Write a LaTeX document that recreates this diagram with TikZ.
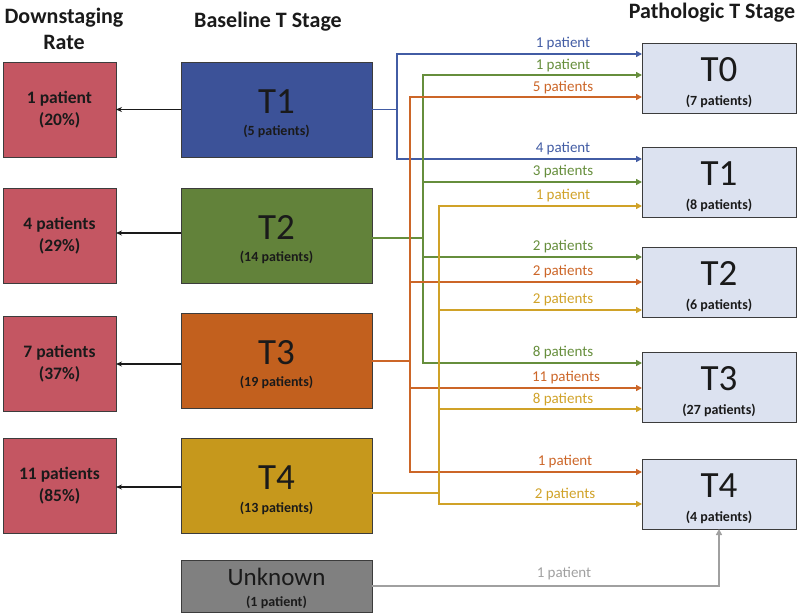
\documentclass[tikz,border=0pt]{standalone}
\usepackage{fontspec}
\setmainfont{Carlito}
\usetikzlibrary{arrows.meta,calc}
\definecolor{cblue}{RGB}{60,82,152}
\definecolor{cgreen}{RGB}{98,130,58}
\definecolor{corange}{RGB}{194,96,30}
\definecolor{cyellow}{RGB}{198,152,28}
\definecolor{cgray}{RGB}{128,128,128}
\definecolor{cred}{RGB}{196,86,98}
\definecolor{cpale}{RGB}{220,226,240}
\definecolor{lblue}{RGB}{66,92,164}
\definecolor{lgreen}{RGB}{102,142,60}
\definecolor{lorange}{RGB}{204,102,40}
\definecolor{lyellow}{RGB}{208,162,40}
\definecolor{lgray}{RGB}{160,160,160}
\definecolor{ink}{RGB}{26,26,26}
\tikzset{
  box/.style={draw=ink!85, line width=0.9pt, inner sep=0pt, outer sep=0pt, align=center, text=ink},
  ratebox/.style={box, fill=cred, minimum width=113pt, minimum height=95pt, font=\bfseries\fontsize{17.5}{22}\selectfont},
  basebox/.style={box, minimum width=191pt, minimum height=95pt},
  pathbox/.style={box, fill=cpale, minimum width=154pt, minimum height=70pt},
  bigt/.style={font=\fontsize{37}{40}\selectfont, text=ink, inner sep=0pt},
  subt/.style={font=\bfseries\fontsize{14}{16}\selectfont, text=ink, inner sep=0pt},
  hdr/.style={font=\bfseries\fontsize{22}{26}\selectfont, text=ink, align=center},
  conn/.style={line width=1.5pt, -{Triangle[length=6pt,width=6pt]}},
  trunk/.style={line width=1.5pt},
  lab/.style={font=\fontsize{15}{17}\selectfont, inner sep=0pt},
  back/.style={line width=1.6pt, ink, -{Stealth[length=6pt,width=5pt]}}
}
\begin{document}
\begin{tikzpicture}[x=1pt,y=-1pt]
\useasboundingbox (0,0) rectangle (800,614);
% headers
\node[hdr] (h1) at (64,29) {Downstaging\\Rate};
\node[hdr] (h2) at (268,22) {Baseline T Stage};
\node[hdr] (h3) at (712,13) {Pathologic T Stage};
% rate boxes
\node[ratebox] (r1) at (59.5,109.5) {1 patient\\(20\%)};
\node[ratebox] (r2) at (59.5,235.5) {4 patients\\(29\%)};
\node[ratebox] (r3) at (59.5,364) {7 patients\\(37\%)};
\node[ratebox] (r4) at (59.5,486) {11 patients\\(85\%)};
% baseline boxes
\node[basebox, fill=cblue] (b1) at (276.5,109.5) {};
\node[basebox, fill=cgreen] (b2) at (276.5,235.5) {};
\node[basebox, fill=corange] (b3) at (276.5,360.5) {};
\node[basebox, fill=cyellow] (b4) at (276.5,486) {};
\node[box, fill=cgray, minimum width=191pt, minimum height=52pt] (un) at (276.5,586) {};
\node[bigt] (b1t) at ($(b1)+(0,-8)$) {T1};
\node[subt] (b1s) at ($(b1)+(0,22)$) {(5 patients)};
\node[bigt] (b2t) at ($(b2)+(0,-8)$) {T2};
\node[subt] (b2s) at ($(b2)+(0,22)$) {(14 patients)};
\node[bigt] (b3t) at ($(b3)+(0,-8)$) {T3};
\node[subt] (b3s) at ($(b3)+(0,22)$) {(19 patients)};
\node[bigt] (b4t) at ($(b4)+(0,-8)$) {T4};
\node[subt] (b4s) at ($(b4)+(0,22)$) {(13 patients)};
\node[bigt, font=\fontsize{25}{28}\selectfont] (unt) at ($(un)+(0,-9)$) {Unknown};
\node[subt] (uns) at ($(un)+(0,16)$) {(1 patient)};
% pathologic boxes
\node[pathbox] (p0) at (719,78) {};
\node[pathbox] (p1) at (719,182.5) {};
\node[pathbox] (p2) at (719,282) {};
\node[pathbox] (p3) at (719,387.5) {};
\node[pathbox] (p4) at (719,494) {};
\node[bigt] (p0t) at ($(p0)+(0,-8.5)$) {T0};
\node[subt] (p0s) at ($(p0)+(0,23)$) {(7 patients)};
\node[bigt] (p1t) at ($(p1)+(0,-8.5)$) {T1};
\node[subt] (p1s) at ($(p1)+(0,23)$) {(8 patients)};
\node[bigt] (p2t) at ($(p2)+(0,-8.5)$) {T2};
\node[subt] (p2s) at ($(p2)+(0,23)$) {(6 patients)};
\node[bigt] (p3t) at ($(p3)+(0,-8.5)$) {T3};
\node[subt] (p3s) at ($(p3)+(0,23)$) {(27 patients)};
\node[bigt] (p4t) at ($(p4)+(0,-8.5)$) {T4};
\node[subt] (p4s) at ($(p4)+(0,23)$) {(4 patients)};
% back arrows to rate boxes
\draw[back] (b1.west) -- (r1.east);
\draw[back] (b2.west |- 0,233) -- (r2.east |- 0,233);
\draw[back] (b3.west |- 0,364) -- (r3.east |- 0,364);
\draw[back] (b4.west |- 0,487) -- (r4.east |- 0,487);
% junctions
\coordinate (jb) at (397,109.5);
\coordinate (jg) at (423,238);
\coordinate (jo) at (410,361);
\coordinate (jy) at (439,493);
% blue
\draw[trunk, lblue] (b1.east) -- (jb);
\draw[conn, lblue] (jb) |- (p0.west |- 0,54);
\draw[conn, lblue] (jb) |- (p1.west |- 0,159);
% green
\draw[trunk, lgreen] (b2.east |- jg) -- (jg);
\draw[conn, lgreen] (jg) |- (p0.west |- 0,75);
\draw[conn, lgreen] (jg) |- (p1.west |- 0,182);
\draw[conn, lgreen] (jg) |- (p2.west |- 0,257);
\draw[conn, lgreen] (jg) |- (p3.west |- 0,363);
% orange
\draw[trunk, lorange] (b3.east |- jo) -- (jo);
\draw[conn, lorange] (jo) |- (p0.west |- 0,97);
\draw[conn, lorange] (jo) |- (p2.west |- 0,282);
\draw[conn, lorange] (jo) |- (p3.west |- 0,388);
\draw[conn, lorange] (jo) |- (p4.west |- 0,472);
% yellow
\draw[trunk, lyellow] (b4.east |- jy) -- (jy);
\draw[conn, lyellow] (jy) |- (p1.west |- 0,206);
\draw[conn, lyellow] (jy) |- (p2.west |- 0,310);
\draw[conn, lyellow] (jy) |- (p3.west |- 0,409);
\draw[conn, lyellow] (jy) |- (p4.west |- 0,504);
% gray
\draw[conn, lgray] (un.east) -| (p4.south);
% labels
\node[lab, text=lblue] (l1) at (563,44) {1 patient};
\node[lab, text=lgreen] (l2) at (563,66) {1 patient};
\node[lab, text=lorange] (l3) at (563,88) {5 patients};
\node[lab, text=lblue] (l4) at (563,149) {4 patient};
\node[lab, text=lgreen] (l5) at (563,172) {3 patients};
\node[lab, text=lyellow] (l6) at (563,196) {1 patient};
\node[lab, text=lgreen] (l7) at (563,247) {2 patients};
\node[lab, text=lorange] (l8) at (563,272) {2 patients};
\node[lab, text=lyellow] (l9) at (563,300) {2 patients};
\node[lab, text=lgreen] (l10) at (563,353) {8 patients};
\node[lab, text=lorange] (l11) at (566,378) {11 patients};
\node[lab, text=lyellow] (l12) at (563,400) {8 patients};
\node[lab, text=lorange] (l13) at (565,462) {1 patient};
\node[lab, text=lyellow] (l14) at (565,495) {2 patients};
\node[lab, text=lgray] (l15) at (564,574) {1 patient};
\end{tikzpicture}
\end{document}
